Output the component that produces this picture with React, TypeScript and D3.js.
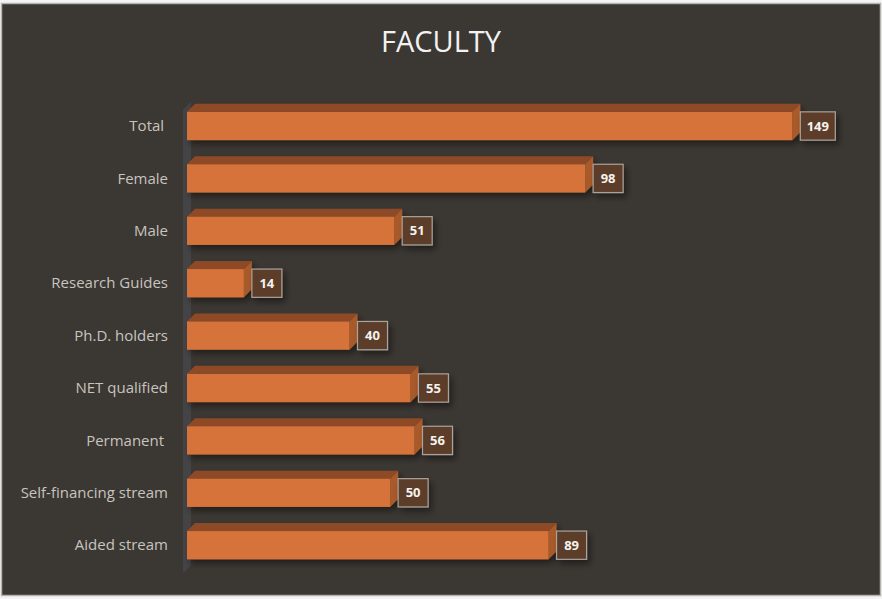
import * as d3 from "d3";

// Faculty counts — horizontal 3D-ish bar chart on a dark slate background.
const categories = [
  "Total ",
  "Female",
  "Male",
  "Research Guides",
  "Ph.D. holders",
  "NET qualified",
  "Permanent ",
  "Self-financing stream",
  "Aided stream",
];
const values = [149, 98, 51, 14, 40, 55, 56, 50, 89];
const title = "FACULTY";

const W = 882;
const H = 599;
const DEPTH = 8; // fake 3D offset (right / up)

const BG = "#3b3733";
const FRONT = "#d5733a";
const TOP = "#8e4a25";
const SIDE = "#a95a2c";

export default function App() {
  const x = d3.scaleLinear().domain([0, 160]).range([187, 837]);
  const y = d3
    .scaleBand<string>()
    .domain(categories)
    .range([99.8, 571.4])
    .paddingInner(0.46)
    .paddingOuter(0.23);
  const bw = y.bandwidth();
  const x0 = x(0);
  const yTop = y(categories[0])! - DEPTH - 2;
  const yBot = y(categories[categories.length - 1])! + bw + 14;

  return (
    <svg
      width={W}
      height={H}
      style={{ position: "absolute", left: 0, top: 0, fontFamily: "'Open Sans', sans-serif" }}
    >
      <defs>
        <filter id="sh" x="-30%" y="-30%" width="180%" height="180%">
          <feGaussianBlur in="SourceAlpha" stdDeviation="3" />
          <feOffset dx="3" dy="4" result="b" />
          <feComponentTransfer>
            <feFuncA type="linear" slope="0.45" />
          </feComponentTransfer>
          <feMerge>
            <feMergeNode />
            <feMergeNode in="SourceGraphic" />
          </feMerge>
        </filter>
      </defs>
      <rect x={0} y={0} width={W} height={H} fill="#f4f4f4" />
      <rect x={1.5} y={3.5} width={W - 3} height={H - 7} fill={BG} stroke="#b5b3b0" strokeWidth={1.5} />

      <text x={441} y={52} textAnchor="middle" fontSize={29} fill="#f2f2f2">
        {title}
      </text>

      {/* left wall */}
      <polygon
        points={`${x0 - 4},${yTop + DEPTH} ${x0 + DEPTH - 4},${yTop} ${x0 + DEPTH - 4},${yBot - DEPTH} ${x0 - 4},${yBot}`}
        fill="#444346"
      />

      {categories.map((c, i) => {
        const v = values[i];
        const yy = y(c)!;
        const xe = x(v);
        const label = String(v);
        const boxW = label.length > 2 ? 35 : 30;
        return (
          <g key={c}>
            <text
              x={168}
              y={yy + bw / 2}
              dy="0.35em"
              textAnchor="end"
              fontSize={15}
              fill="#c8c4bf"
              style={{ whiteSpace: "pre" }}
            >
              {c}
            </text>
            <g filter="url(#sh)">
              <polygon
                points={`${x0},${yy} ${x0 + DEPTH},${yy - DEPTH} ${xe + DEPTH},${yy - DEPTH} ${xe},${yy}`}
                fill={TOP}
              />
              <polygon
                points={`${xe},${yy} ${xe + DEPTH},${yy - DEPTH} ${xe + DEPTH},${yy + bw - DEPTH} ${xe},${yy + bw}`}
                fill={SIDE}
              />
              <rect x={x0} y={yy} width={xe - x0} height={bw} fill={FRONT} />
            </g>
            <g filter="url(#sh)">
              <rect
                x={xe + DEPTH}
                y={yy}
                width={boxW}
                height={bw}
                fill="#5c3e2a"
                stroke="#aaa39c"
                strokeWidth={1.2}
              />
            </g>
            <text
              x={xe + DEPTH + boxW / 2}
              y={yy + bw / 2}
              dy="0.35em"
              textAnchor="middle"
              fontSize={13}
              fontWeight="bold"
              fill="#f5f2ee"
            >
              {label}
            </text>
          </g>
        );
      })}
    </svg>
  );
}
